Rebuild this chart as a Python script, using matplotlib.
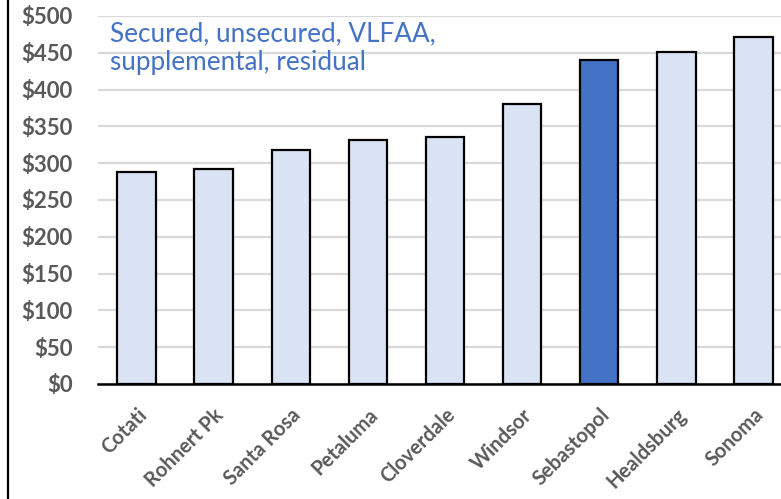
import matplotlib.pyplot as plt
from matplotlib.lines import Line2D

cities = ["Cotati", "Rohnert Pk", "Santa Rosa", "Petaluma", "Cloverdale",
          "Windsor", "Sebastopol", "Healdsburg", "Sonoma"]
per_capita = [288, 292, 318, 332, 335, 380, 440, 451, 472]
highlight = "Sebastopol"
y_ticks = [0, 50, 100, 150, 200, 250, 300, 350, 400, 450, 500]

light = "#DAE3F3"
dark = "#4472C4"
label_gray = "#595959"

fig = plt.figure(figsize=(7.81, 4.99), dpi=100)
ax = fig.add_axes([98 / 781, 1 - 384 / 499, 694 / 781, 368 / 499])

colors = [dark if c == highlight else light for c in cities]
ax.bar(range(len(cities)), per_capita, width=0.5, color=colors,
       edgecolor="black", linewidth=1.6, zorder=3)

ax.set_xlim(-0.5, len(cities) - 0.5)
ax.set_ylim(0, 500)
ax.set_yticks(y_ticks)
ax.set_yticklabels([f"${v}" for v in y_ticks])
ax.yaxis.grid(True, color="#D9D9D9", linewidth=1.6, zorder=0)
ax.set_axisbelow(True)

for side in ("top", "right", "left"):
    ax.spines[side].set_visible(False)
ax.spines["bottom"].set_linewidth(1.8)
ax.spines["bottom"].set_zorder(4)

ax.tick_params(axis="both", length=0)
ax.tick_params(axis="y", pad=18)
for lbl in ax.get_yticklabels():
    lbl.set_fontfamily("Lato")
    lbl.set_fontweight("bold")
    lbl.set_fontsize(16)
    lbl.set_color(label_gray)

ax.set_xticks(range(len(cities)))
ax.set_xticklabels(cities, rotation=45, ha="right", rotation_mode="anchor",
                   fontfamily="Lato", fontweight="bold", fontsize=14.5,
                   color=label_gray)
ax.tick_params(axis="x", pad=15)

ax.text(110 / 781, 1 - 48 / 499, "Secured, unsecured, VLFAA,\nsupplemental, residual",
        transform=fig.transFigure, fontfamily="Lato", fontsize=18.8,
        color=dark, va="center", ha="left", linespacing=1.2)

# frame edge on the left
fig.add_artist(Line2D([8 / 781, 8 / 781], [0, 1], color="black", linewidth=1.6,
                      transform=fig.transFigure))

fig.savefig("out.png", dpi=100)
